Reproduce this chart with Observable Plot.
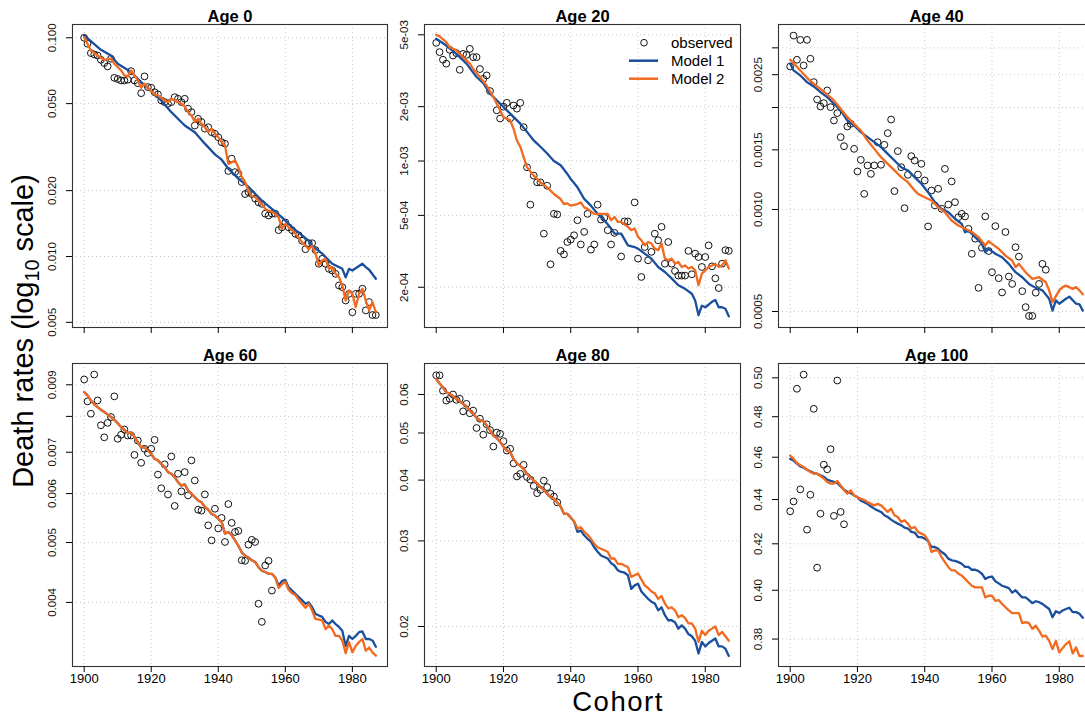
<!DOCTYPE html>
<html><head><meta charset="utf-8">
<script src="https://cdn.jsdelivr.net/npm/d3@7"></script>
<script src="https://cdn.jsdelivr.net/npm/@observablehq/plot@0.6"></script>
<style>
html,body{margin:0;padding:0;background:#fff;}
#root{position:relative;width:1085px;height:717px;overflow:hidden;font-family:"Liberation Sans",Arial,Helvetica,sans-serif;background:#fff;color:#000;}
.panel{position:absolute;}
.panel svg{max-width:none !important;overflow:visible;display:block;}
#ylab{position:absolute;left:23px;top:331px;transform:translate(-50%,-50%) rotate(-90deg);font-size:29px;line-height:1;white-space:nowrap;}
#ylab .sub{font-size:0.68em;position:relative;top:0.32em;}
#xlab{position:absolute;left:618px;top:686.2px;transform:translateX(-50%);font-size:27.5px;letter-spacing:1.5px;line-height:31px;height:31px;white-space:nowrap;}
#legend{position:absolute;left:600px;top:28px;}
</style></head><body><div id="root"></div>
<script>
const BLUE = "#1a4f9e", ORANGE = "#f26a1f";
const FONT = '"Liberation Sans", Arial, Helvetica, sans-serif';
const xTicks = [1900, 1920, 1940, 1960, 1980];
const cohorts = [1900,1901,1902,1903,1904,1905,1906,1907,1908,1909,1910,1911,1912,1913,1914,1915,1916,1917,1918,1919,1920,1921,1922,1923,1924,1925,1926,1927,1928,1929,1930,1931,1932,1933,1934,1935,1936,1937,1938,1939,1940,1941,1942,1943,1944,1945,1946,1947,1948,1949,1950,1951,1952,1953,1954,1955,1956,1957,1958,1959,1960,1961,1962,1963,1964,1965,1966,1967,1968,1969,1970,1971,1972,1973,1974,1975,1976,1977,1978,1979,1980,1981,1982,1983,1984,1985,1986,1987];

// ---------- Age 0 ----------
const age0Ticks = [0.1, 0.05, 0.02, 0.01, 0.005];
const age0Labels = ["0.100", "0.050", "0.020", "0.010", "0.005"];
const age0Obs = [0.100,0.0939,0.0851,0.0839,0.0830,0.0793,0.0766,0.0740,0.0802,0.0656,0.0648,0.0638,0.0638,0.0643,0.0704,0.0638,0.0620,0.0558,0.0666,0.0595,0.0591,0.0564,0.0551,0.0517,0.0508,0.0500,0.0508,0.0535,0.0526,0.0508,0.0526,0.0474,0.0457,0.0397,0.0426,0.0412,0.0384,0.0390,0.0370,0.0364,0.0351,0.0333,0.0328,0.0246,0.0280,0.0243,0.0239,0.0219,0.0193,0.0197,0.0193,0.0184,0.0177,0.0174,0.0157,0.0154,0.0157,0.0157,0.0132,0.0136,0.0143,0.0136,0.0132,0.0127,0.0125,0.0118,0.0108,0.0115,0.0115,0.0107,0.00926,0.00976,0.00926,0.00878,0.00863,0.00833,0.00737,0.00724,0.00629,0.00675,0.00556,0.00675,0.00675,0.00712,0.00567,0.00619,0.00540,0.00540];
const age0M1Years = [1900,1905,1908,1910,1914,1917,1920,1923,1926,1930,1933,1936,1939,1941,1943,1946,1949,1953,1956,1959,1962,1965,1967,1968,1971,1974,1977,1978,1979,1980,1983,1984,1985,1987];
const age0M1 = [0.1025,0.0881,0.0830,0.0761,0.0697,0.0627,0.0570,0.0517,0.0457,0.0397,0.0370,0.0328,0.0293,0.0277,0.0252,0.0227,0.0208,0.0180,0.0165,0.0151,0.0136,0.0125,0.0118,0.0112,0.0103,0.00926,0.00878,0.00804,0.00878,0.00863,0.00926,0.00894,0.00870,0.00791];
const age0M2Years = [1900,1902,1904,1906,1908,1909,1911,1912,1913,1914,1915,1916,1917,1918,1919,1920,1921,1922,1923,1924,1925,1926,1927,1928,1929,1930,1931,1932,1933,1934,1935,1936,1937,1938,1939,1940,1941,1942,1943,1944,1945,1946,1947,1948,1949,1950,1951,1952,1953,1954,1955,1956,1957,1958,1959,1960,1961,1962,1963,1964,1965,1966,1967,1968,1969,1970,1971,1972,1973,1974,1975,1976,1977,1978,1979,1980,1981,1982,1983,1984,1985,1986,1987];
const age0M2 = [0.1007,0.0875,0.0830,0.0793,0.0802,0.0761,0.0709,0.0673,0.0666,0.0709,0.0673,0.0638,0.0591,0.0616,0.0591,0.0570,0.0551,0.0545,0.0532,0.0517,0.0508,0.0526,0.0517,0.0508,0.0500,0.0485,0.0457,0.0441,0.0412,0.0426,0.0404,0.0390,0.0370,0.0384,0.0364,0.0351,0.0333,0.0322,0.0265,0.0270,0.0275,0.0256,0.0231,0.0219,0.0200,0.0189,0.0187,0.0180,0.0174,0.0165,0.0162,0.0160,0.0157,0.0151,0.0134,0.0141,0.0136,0.0132,0.0127,0.0122,0.0116,0.0112,0.0108,0.0112,0.0103,0.00910,0.00959,0.00976,0.00878,0.00894,0.00833,0.00805,0.00737,0.00629,0.00700,0.00675,0.00586,0.00675,0.00712,0.00629,0.00567,0.00619,0.00556];

// ---------- Age 20 ----------
const age20Ticks = [0.005, 0.002, 0.001, 0.0005, 0.0002];
const age20Labels = ["5e-03", "2e-03", "1e-03", "5e-04", "2e-04"];
const age20ObsYears = [1900,1901,1902,1903,1904,1905,1906,1907,1908,1909,1910,1911,1912,1913,1914,1915,1916,1918,1919,1920,1921,1922,1923,1924,1925,1926,1927,1928,1929,1930,1931,1932,1933,1934,1935,1936,1937,1938,1939,1940,1941,1942,1943,1944,1945,1946,1947,1948,1949,1950,1951,1952,1953,1955,1956,1957,1959,1960,1961,1962,1963,1964,1965,1966,1967,1968,1969,1970,1971,1972,1973,1974,1975,1976,1977,1978,1979,1980,1981,1982,1983,1984,1985,1986,1987];
const age20Obs = [0.00451,0.00401,0.00364,0.00346,0.00413,0.00384,0.00396,0.00320,0.00392,0.00387,0.00418,0.00376,0.00376,0.00323,0.00285,0.00298,0.00244,0.00191,0.00172,0.00200,0.00210,0.00172,0.00203,0.00195,0.00210,0.00154,0.000923,0.000573,0.000830,0.000762,0.000762,0.000396,0.000730,0.000268,0.000510,0.000506,0.000318,0.000304,0.000356,0.000367,0.000388,0.000470,0.000345,0.000405,0.000510,0.000323,0.000345,0.000573,0.000474,0.000485,0.000414,0.000345,0.000400,0.000296,0.000463,0.000463,0.000590,0.000288,0.000228,0.000334,0.000282,0.000314,0.000396,0.000364,0.000432,0.000270,0.000356,0.000270,0.000246,0.000232,0.000232,0.000232,0.000318,0.000236,0.000307,0.000294,0.000259,0.000294,0.000341,0.000261,0.000224,0.000198,0.000270,0.000321,0.000318];
const age20M1Years = [1900,1903,1906,1909,1912,1914,1916,1918,1920,1922,1925,1927,1929,1931,1933,1935,1937,1939,1940,1942,1944,1946,1948,1950,1952,1953,1955,1957,1959,1960,1962,1964,1966,1968,1970,1972,1974,1976,1977,1978,1979,1980,1981,1982,1983,1984,1985,1986,1987];
const age20M1 = [0.00475,0.00436,0.00392,0.00346,0.00292,0.00270,0.00236,0.00217,0.00199,0.00183,0.00161,0.00145,0.00130,0.00120,0.00110,0.00100,0.000947,0.000848,0.000795,0.000715,0.000617,0.000566,0.000510,0.000470,0.000423,0.000396,0.000396,0.000341,0.000334,0.000327,0.000307,0.000288,0.000259,0.000243,0.000224,0.000205,0.000196,0.000184,0.000169,0.000140,0.000158,0.000155,0.000160,0.000166,0.000170,0.000155,0.000155,0.000152,0.000138];
const age20M2Years = [1900,1901,1903,1904,1906,1908,1910,1911,1913,1915,1917,1919,1920,1922,1923,1924,1925,1926,1927,1929,1931,1933,1935,1937,1938,1939,1940,1942,1943,1944,1945,1947,1949,1951,1952,1953,1954,1955,1957,1958,1959,1960,1961,1962,1963,1964,1965,1966,1967,1968,1969,1970,1971,1972,1973,1974,1975,1976,1977,1978,1979,1980,1981,1982,1983,1984,1985,1986,1987];
const age20M2 = [0.00500,0.00490,0.00455,0.00427,0.00410,0.00376,0.00346,0.00323,0.00292,0.00262,0.00226,0.00191,0.00175,0.00168,0.00151,0.00130,0.00120,0.00105,0.000923,0.000830,0.000762,0.000715,0.000657,0.000616,0.000578,0.000583,0.000566,0.000578,0.000590,0.000554,0.000543,0.000510,0.000510,0.000510,0.000470,0.000490,0.000460,0.000460,0.000432,0.000414,0.000423,0.000380,0.000364,0.000341,0.000356,0.000349,0.000327,0.000321,0.000349,0.000288,0.000282,0.000288,0.000270,0.000276,0.000259,0.000264,0.000254,0.000259,0.000248,0.000205,0.000238,0.000248,0.000259,0.000264,0.000270,0.000259,0.000264,0.000282,0.000254];

// ---------- Age 40 ----------
const age40Ticks = [0.003, 0.0025, 0.002, 0.0015, 0.001, 0.0005];
const age40Labels = ["", "0.0025", "", "0.0015", "0.0010", "0.0005"];
const age40ObsYears = cohorts.slice(0, 77);
const age40Obs = [0.002643,0.00326,0.002767,0.003167,0.002662,0.003167,0.002786,0.002377,0.002112,0.002014,0.002060,0.002246,0.002005,0.001831,0.001925,0.001635,0.001538,0.001758,0.001790,0.001510,0.001295,0.001401,0.001112,0.001349,0.001274,0.001349,0.001580,0.001355,0.001552,0.001680,0.001843,0.001133,0.001487,0.001333,0.001009,0.001266,0.001437,0.001395,0.001268,0.001364,0.001218,0.000891,0.001138,0.001028,0.001151,0.001005,0.001318,0.001034,0.001210,0.001051,0.000949,0.000971,0.000954,0.000877,0.000740,0.000820,0.000587,0.000771,0.000954,0.000754,0.000653,0.000893,0.000627,0.000569,0.000858,0.000634,0.000603,0.000774,0.000726,0.000574,0.000515,0.000485,0.000485,0.000568,0.000603,0.000691,0.000664];
const age40M1Years = [1900,1901,1903,1905,1907,1909,1911,1913,1915,1917,1919,1921,1923,1925,1927,1929,1931,1933,1935,1937,1939,1941,1943,1945,1947,1949,1951,1952,1953,1955,1957,1958,1959,1961,1963,1965,1967,1969,1971,1973,1975,1977,1978,1979,1980,1982,1983,1985,1986,1987];
const age40M1 = [0.002692,0.002573,0.002487,0.002377,0.002308,0.002221,0.002146,0.002051,0.001960,0.001831,0.001770,0.001692,0.001635,0.001580,0.001528,0.001460,0.001395,0.001333,0.001304,0.001246,0.001191,0.001125,0.001051,0.001005,0.000982,0.000939,0.000907,0.000857,0.000867,0.000829,0.000792,0.000748,0.000765,0.000740,0.000723,0.000691,0.000653,0.000631,0.000603,0.000587,0.000577,0.000545,0.000503,0.000539,0.000527,0.000545,0.000553,0.000527,0.000525,0.000503];
const age40M2Years = [1900,1901,1903,1905,1907,1909,1911,1913,1915,1917,1919,1921,1923,1925,1927,1929,1931,1933,1935,1937,1938,1940,1942,1944,1946,1948,1950,1952,1954,1956,1958,1959,1960,1962,1964,1966,1967,1968,1970,1972,1974,1976,1977,1978,1980,1981,1982,1984,1985,1986,1987];
const age40M2 = [0.002767,0.002704,0.002573,0.002448,0.002350,0.002271,0.002185,0.002098,0.001982,0.001873,0.001790,0.001711,0.001598,0.001510,0.001427,0.001364,0.001304,0.001246,0.001204,0.001138,0.001112,0.001087,0.001063,0.001016,0.000982,0.000928,0.000897,0.000877,0.000858,0.000829,0.000783,0.000806,0.000792,0.000765,0.000731,0.000707,0.000676,0.000691,0.000653,0.000624,0.000631,0.000610,0.000577,0.000533,0.000577,0.000590,0.000596,0.000583,0.000590,0.000577,0.000562];

// ---------- Age 60 ----------
const age60Ticks = [0.009, 0.008, 0.007, 0.006, 0.005, 0.004];
const age60Labels = ["0.009", "", "0.007", "0.006", "0.005", "0.004"];
const age60ObsYears = cohorts.slice(0, 57);
const age60Obs = [0.00918,0.00846,0.00808,0.00935,0.00849,0.00774,0.00740,0.00781,0.00798,0.00862,0.00736,0.00747,0.00762,0.00745,0.00745,0.00693,0.00731,0.00673,0.00709,0.00698,0.00709,0.00733,0.00644,0.00612,0.00669,0.00598,0.00689,0.00573,0.00646,0.00605,0.00650,0.00596,0.00679,0.00630,0.00565,0.00563,0.00598,0.00533,0.00504,0.00567,0.00527,0.00548,0.00501,0.00577,0.00538,0.00520,0.00522,0.00468,0.00467,0.00496,0.00505,0.00501,0.00398,0.00372,0.00459,0.00467,0.00418];
const age60M1 = [0.00876,0.00865,0.00849,0.00837,0.00828,0.00820,0.00813,0.00806,0.00798,0.00790,0.00780,0.00769,0.00761,0.00752,0.00754,0.00742,0.00727,0.00713,0.00713,0.00704,0.00696,0.00683,0.00679,0.00670,0.00662,0.00650,0.00646,0.00638,0.00626,0.00618,0.00621,0.00607,0.00600,0.00592,0.00585,0.00581,0.00571,0.00565,0.00556,0.00553,0.00546,0.00540,0.00517,0.00520,0.00514,0.00504,0.00494,0.00482,0.00476,0.00473,0.00468,0.00465,0.00456,0.00450,0.00448,0.00445,0.00445,0.00439,0.00426,0.00433,0.00435,0.00423,0.00418,0.00413,0.00408,0.00403,0.00398,0.00400,0.00393,0.00383,0.00381,0.00379,0.00372,0.00369,0.00374,0.00369,0.00365,0.00360,0.00340,0.00353,0.00349,0.00353,0.00358,0.00359,0.00349,0.00349,0.00347,0.00339];
const age60M2 = [0.00876,0.00865,0.00849,0.00837,0.00828,0.00820,0.00813,0.00806,0.00798,0.00790,0.00780,0.00769,0.00761,0.00752,0.00754,0.00742,0.00727,0.00713,0.00713,0.00704,0.00696,0.00683,0.00679,0.00670,0.00662,0.00650,0.00646,0.00638,0.00626,0.00618,0.00621,0.00607,0.00600,0.00592,0.00585,0.00581,0.00571,0.00565,0.00556,0.00553,0.00546,0.00540,0.00517,0.00520,0.00514,0.00504,0.00494,0.00482,0.00476,0.00473,0.00468,0.00465,0.00456,0.00450,0.00448,0.00445,0.00445,0.00439,0.00422,0.00428,0.00432,0.00419,0.00414,0.00411,0.00404,0.00398,0.00392,0.00398,0.00388,0.00376,0.00375,0.00374,0.00362,0.00367,0.00362,0.00353,0.00353,0.00347,0.00331,0.00345,0.00332,0.00340,0.00345,0.00349,0.00334,0.00338,0.00332,0.00328];

// ---------- Age 80 ----------
const age80Ticks = [0.06, 0.05, 0.04, 0.03, 0.02];
const age80Labels = ["0.06", "0.05", "0.04", "0.03", "0.02"];
const age80ObsYears = cohorts.slice(0, 37);
const age80Obs = [0.0657,0.0657,0.0611,0.0583,0.0588,0.0600,0.0585,0.0588,0.0554,0.0574,0.0549,0.0556,0.0512,0.0535,0.0496,0.0521,0.0507,0.0469,0.0501,0.0498,0.0481,0.0460,0.0464,0.0433,0.0407,0.0412,0.0430,0.0406,0.0401,0.0389,0.0376,0.0382,0.0399,0.0387,0.0375,0.0370,0.0360];
const age80M1 = [0.0646,0.0632,0.0621,0.0606,0.0602,0.0595,0.0588,0.0581,0.0574,0.0567,0.0556,0.0548,0.0537,0.0531,0.0529,0.0518,0.0506,0.0494,0.0488,0.0479,0.0469,0.0460,0.0457,0.0442,0.0433,0.0428,0.0422,0.0412,0.0406,0.0399,0.0394,0.0387,0.0382,0.0375,0.0369,0.0366,0.0360,0.0353,0.0341,0.0341,0.0335,0.0329,0.0313,0.0315,0.0308,0.0303,0.0299,0.0291,0.0285,0.0280,0.0278,0.0276,0.0270,0.0267,0.0261,0.0259,0.0258,0.0255,0.0239,0.0243,0.0245,0.0236,0.0232,0.0228,0.0225,0.0223,0.0216,0.0219,0.0211,0.0206,0.0206,0.0204,0.0198,0.0201,0.0198,0.0193,0.0191,0.0187,0.0176,0.0186,0.0182,0.0185,0.0187,0.0189,0.0182,0.0182,0.0180,0.0174];
const age80M2 = [0.0646,0.0632,0.0621,0.0606,0.0602,0.0595,0.0588,0.0581,0.0574,0.0567,0.0556,0.0548,0.0537,0.0531,0.0529,0.0518,0.0506,0.0494,0.0488,0.0479,0.0469,0.0460,0.0457,0.0442,0.0433,0.0428,0.0422,0.0412,0.0406,0.0399,0.0394,0.0387,0.0382,0.0375,0.0369,0.0366,0.0360,0.0353,0.0341,0.0341,0.0335,0.0329,0.0318,0.0320,0.0313,0.0309,0.0303,0.0296,0.0291,0.0289,0.0287,0.0285,0.0276,0.0276,0.0269,0.0269,0.0267,0.0265,0.0253,0.0255,0.0257,0.0250,0.0243,0.0240,0.0236,0.0234,0.0228,0.0231,0.0223,0.0218,0.0219,0.0216,0.0209,0.0211,0.0208,0.0203,0.0203,0.0198,0.0186,0.0196,0.0192,0.0196,0.0198,0.0200,0.0192,0.0195,0.0191,0.0187];

// ---------- Age 100 ----------
const age100Ticks = [0.50, 0.48, 0.46, 0.44, 0.42, 0.40, 0.38];
const age100Labels = ["0.50", "0.48", "0.46", "0.44", "0.42", "0.40", "0.38"];
const age100ObsYears = cohorts.slice(0, 17);
const age100Obs = [0.4346,0.4391,0.4943,0.4447,0.5017,0.4263,0.4422,0.4840,0.4096,0.4335,0.4564,0.4542,0.4639,0.4325,0.4986,0.4343,0.4287];
const age100M1 = [0.4592,0.4584,0.4569,0.4556,0.4550,0.4540,0.4532,0.4524,0.4521,0.4513,0.4506,0.4493,0.4487,0.4482,0.4477,0.4461,0.4446,0.4435,0.4430,0.4419,0.4411,0.4395,0.4388,0.4380,0.4368,0.4358,0.4350,0.4343,0.4328,0.4320,0.4308,0.4298,0.4290,0.4283,0.4272,0.4268,0.4253,0.4250,0.4230,0.4230,0.4223,0.4212,0.4186,0.4186,0.4178,0.4164,0.4154,0.4135,0.4128,0.4125,0.4120,0.4113,0.4099,0.4099,0.4087,0.4087,0.4081,0.4070,0.4048,0.4055,0.4058,0.4038,0.4029,0.4019,0.4014,0.4009,0.3990,0.4000,0.3984,0.3970,0.3970,0.3959,0.3946,0.3954,0.3950,0.3943,0.3932,0.3922,0.3888,0.3913,0.3905,0.3916,0.3922,0.3927,0.3909,0.3909,0.3902,0.3886];
const age100M2 = [0.4608,0.4592,0.4572,0.4561,0.4553,0.4540,0.4529,0.4521,0.4521,0.4510,0.4498,0.4482,0.4474,0.4474,0.4487,0.4466,0.4443,0.4427,0.4443,0.4419,0.4411,0.4403,0.4398,0.4388,0.4380,0.4373,0.4380,0.4373,0.4358,0.4343,0.4358,0.4328,0.4320,0.4298,0.4305,0.4290,0.4268,0.4275,0.4253,0.4245,0.4238,0.4215,0.4164,0.4171,0.4171,0.4142,0.4120,0.4099,0.4084,0.4084,0.4070,0.4062,0.4048,0.4033,0.4019,0.4012,0.4012,0.4012,0.3970,0.3977,0.3977,0.3956,0.3959,0.3943,0.3929,0.3916,0.3905,0.3905,0.3905,0.3864,0.3868,0.3864,0.3841,0.3854,0.3834,0.3810,0.3814,0.3793,0.3760,0.3793,0.3747,0.3764,0.3780,0.3791,0.3743,0.3767,0.3733,0.3733];

// ---------- layout / build ----------
const xDomain = [1896.52, 1990.48];
const panels = [
  {title: "Age 0",   box: [72, 24, 315, 303],  yDomain: [0.004735, 0.1150],  ticks: age0Ticks,   labels: age0Labels,   obs: [cohorts, age0Obs],            m1: [age0M1Years, age0M1],   m2: [age0M2Years, age0M2],   xLab: false},
  {title: "Age 20",  box: [424, 24, 316, 303], yDomain: [0.0001197, 0.005702], ticks: age20Ticks, labels: age20Labels,  obs: [age20ObsYears, age20Obs],     m1: [age20M1Years, age20M1], m2: [age20M2Years, age20M2], xLab: false},
  {title: "Age 40",  box: [778, 24, 316, 303], yDomain: [0.0004484, 0.003516], ticks: age40Ticks, labels: age40Labels,  obs: [age40ObsYears, age40Obs],     m1: [age40M1Years, age40M1], m2: [age40M2Years, age40M2], xLab: false},
  {title: "Age 60",  box: [72, 363, 315, 303], yDomain: [0.003150, 0.009743], ticks: age60Ticks,  labels: age60Labels,  obs: [age60ObsYears, age60Obs],     m1: [cohorts, age60M1],      m2: [cohorts, age60M2],      xLab: true},
  {title: "Age 80",  box: [424, 363, 316, 303], yDomain: [0.01655, 0.06948],  ticks: age80Ticks,  labels: age80Labels,  obs: [age80ObsYears, age80Obs],     m1: [cohorts, age80M1],      m2: [cohorts, age80M2],      xLab: true},
  {title: "Age 100", box: [778, 363, 316, 303], yDomain: [0.3692, 0.5076],    ticks: age100Ticks, labels: age100Labels, obs: [age100ObsYears, age100Obs],   m1: [cohorts, age100M1],     m2: [cohorts, age100M2],     xLab: true}
];

const root = document.getElementById("root");
const rows = ([ys, vs]) => ys.map((year, i) => ({year, value: vs[i]}));
const mL = 45, mR = 6, mT = 26, mB = 34;

for (const p of panels) {
  const [L, T, W, H] = p.box;
  const labelRows = p.ticks.map((v, i) => ({v, label: p.labels[i]})).filter(d => d.label !== "");
  const grid = {stroke: "#c8c8c8", strokeDasharray: "1,3", strokeWidth: 1};
  const chart = Plot.plot({
    width: W + mL + mR, height: H + mT + mB,
    marginLeft: mL, marginRight: mR, marginTop: mT, marginBottom: mB,
    x: {domain: xDomain},
    y: {type: "log", domain: p.yDomain},
    style: {background: "transparent", fontFamily: FONT, overflow: "visible", color: "#000"},
    marks: [
      Plot.ruleX(xTicks, grid),
      Plot.ruleY(p.ticks, grid),
      Plot.dot(rows(p.obs), {x: "year", y: "value", r: 3.4, stroke: "#111", strokeWidth: 1, fill: "none"}),
      Plot.line(rows(p.m1), {x: "year", y: "value", stroke: BLUE, strokeWidth: 2.3}),
      Plot.line(rows(p.m2), {x: "year", y: "value", stroke: ORANGE, strokeWidth: 2.3}),
      Plot.frame({stroke: "#333", strokeWidth: 1.1}),
      Plot.axisX({ticks: xTicks, tickSize: 6, tickPadding: 1.5, label: null, fontSize: 13,
                  tickFormat: p.xLab ? (d => String(d)) : (() => "")}),
      Plot.axisY({ticks: p.ticks, tickSize: 6, label: null, tickFormat: () => ""}),
      Plot.text(labelRows, {y: "v", text: "label", frameAnchor: "left", dx: -20, rotate: -90,
                            textAnchor: "middle", lineAnchor: "middle", fontSize: 11.5, fill: "#111"}),
      Plot.text([p.title], {frameAnchor: "top", dy: -3, lineAnchor: "bottom", fontWeight: "bold", fontSize: 16.5})
    ]
  });
  const div = document.createElement("div");
  div.className = "panel";
  div.style.left = (L - mL) + "px";
  div.style.top = (T - mT) + "px";
  div.style.width = (W + mL + mR) + "px";
  div.appendChild(chart);
  root.appendChild(div);
}

// legend (inside Age 20 panel)
const legendItems = ["observed", "Model 1", "Model 2"];
const legendColors = [null, BLUE, ORANGE];
const ns = "http://www.w3.org/2000/svg";
const lg = document.createElementNS(ns, "svg");
lg.setAttribute("id", "legend");
lg.setAttribute("width", 140); lg.setAttribute("height", 64);
legendItems.forEach((name, i) => {
  const cy = 14.7 + i * 18;
  if (legendColors[i] === null) {
    const c = document.createElementNS(ns, "circle");
    c.setAttribute("cx", 44); c.setAttribute("cy", cy); c.setAttribute("r", 3.3);
    c.setAttribute("fill", "none"); c.setAttribute("stroke", "#111"); c.setAttribute("stroke-width", 1);
    lg.appendChild(c);
  } else {
    const l = document.createElementNS(ns, "line");
    l.setAttribute("x1", 29); l.setAttribute("x2", 58); l.setAttribute("y1", cy); l.setAttribute("y2", cy);
    l.setAttribute("stroke", legendColors[i]); l.setAttribute("stroke-width", 2.5);
    lg.appendChild(l);
  }
  const t = document.createElementNS(ns, "text");
  t.setAttribute("x", 71); t.setAttribute("y", cy); t.setAttribute("dy", "0.35em");
  t.setAttribute("font-size", 15); t.setAttribute("font-family", FONT);
  t.textContent = name;
  lg.appendChild(t);
});
root.appendChild(lg);

const yl = document.createElement("div");
yl.id = "ylab";
yl.innerHTML = 'Death rates (log<span class="sub">10</span> scale)';
root.appendChild(yl);
const xl = document.createElement("div");
xl.id = "xlab";
xl.textContent = "Cohort";
root.appendChild(xl);
</script></body></html>
